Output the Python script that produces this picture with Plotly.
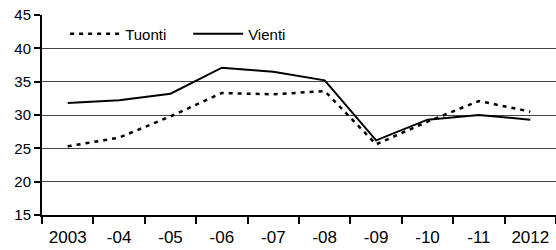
import plotly.graph_objects as go

years = ["2003", "-04", "-05", "-06", "-07", "-08", "-09", "-10", "-11", "2012"]
tuonti = [25.3, 26.6, 29.8, 33.3, 33.1, 33.6, 25.6, 29.0, 32.1, 30.5]
vienti = [31.8, 32.2, 33.2, 37.1, 36.5, 35.2, 26.2, 29.3, 30.0, 29.3]

fig = go.Figure()
fig.add_trace(go.Scatter(x=years, y=tuonti, name="Tuonti", mode="lines",
                         line=dict(color="black", width=2.5, dash="4px,5px")))
fig.add_trace(go.Scatter(x=years, y=vienti, name="Vienti", mode="lines",
                         line=dict(color="black", width=2)))

fig.update_layout(
    width=556, height=250,
    margin=dict(l=42, r=0, t=15, b=35, autoexpand=False),
    paper_bgcolor="white", plot_bgcolor="white",
    font=dict(family="Liberation Sans, Arial", color="black"),
    showlegend=True,
    legend=dict(orientation="h", x=0.045, y=0.905, xanchor="left", yanchor="middle",
                font=dict(size=15), itemwidth=50, bgcolor="rgba(0,0,0,0)",
                entrywidth=58, entrywidthmode="pixels",
                tracegroupgap=0),
    xaxis=dict(type="category", tickson="boundaries", ticks="outside", ticklen=7,
               tickwidth=2, tickcolor="black", showline=True, linecolor="black",
               linewidth=2, showgrid=False, tickfont=dict(size=17),
               range=[-0.5, 9.5], automargin=False, ticklabelstandoff=6),
    yaxis=dict(range=[15, 45], dtick=5, ticks="outside", ticklen=6, tickwidth=2,
               tickcolor="black", showline=True, linecolor="black", linewidth=2,
               showgrid=True, gridcolor="#444", gridwidth=1.2, zeroline=False,
               tickfont=dict(size=15), automargin=False),
)
fig.write_html("out.html", config={"displayModeBar": False},
               post_script="document.body.style.margin='0';document.body.style.padding='0';")
